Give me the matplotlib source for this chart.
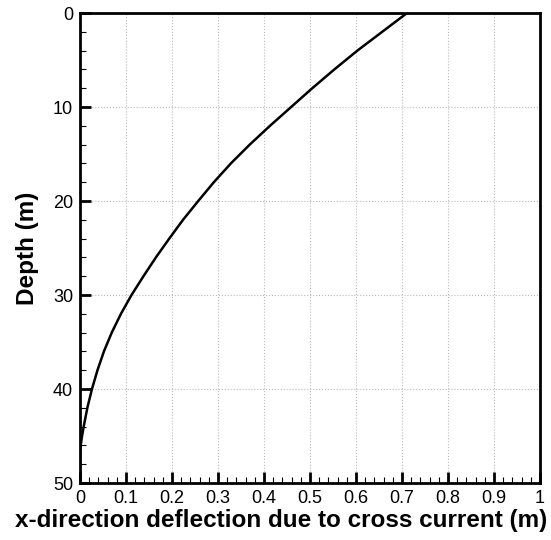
import matplotlib
matplotlib.use("Agg")
import matplotlib.pyplot as plt
from matplotlib.ticker import MultipleLocator, FuncFormatter

depth = [0, 2, 4, 6, 8, 10, 12, 14, 16, 18, 20, 22, 24, 26, 28, 30, 32, 34,
         36, 38, 40, 42, 44, 45, 46, 46.6, 48, 50]
deflection = [0.711, 0.657, 0.603, 0.553, 0.505, 0.459, 0.413, 0.369, 0.328,
              0.291, 0.257, 0.224, 0.194, 0.165, 0.138, 0.112, 0.089, 0.069,
              0.052, 0.038, 0.026, 0.016, 0.008, 0.0045, 0.0015, 0.0, 0.0, 0.0]

x_ticks = [0, 0.1, 0.2, 0.3, 0.4, 0.5, 0.6, 0.7, 0.8, 0.9, 1]
y_ticks = [0, 10, 20, 30, 40, 50]

plt.rcParams['font.family'] = ['Liberation Sans', 'DejaVu Sans']

fig = plt.figure(figsize=(5.51, 5.40), dpi=100)
ax = fig.add_axes([80/551, 1-483/540, 460/551, 470/540])

ax.plot(deflection, depth, color='black', lw=1.8, solid_capstyle='butt',
        solid_joinstyle='round')

ax.set_xlim(0, 1)
ax.set_ylim(50, 0)
ax.set_xticks(x_ticks)
ax.set_yticks(y_ticks)
ax.xaxis.set_major_formatter(FuncFormatter(lambda v, p: f"{v:g}"))
ax.xaxis.set_minor_locator(MultipleLocator(0.02))
ax.yaxis.set_minor_locator(MultipleLocator(2))

ax.tick_params(which='major', direction='in', length=8, width=2, labelsize=13,
               top=False, right=False, pad=5)
ax.tick_params(which='minor', direction='in', length=4.5, width=0.8,
               top=False, right=False)
ax.tick_params(axis='y', which='major', pad=5)

for s in ax.spines.values():
    s.set_linewidth(2)

ax.grid(True, which='major', linestyle=':', color='#bbbbbb', linewidth=0.8)
ax.set_axisbelow(True)

ax.set_xlabel('x-direction deflection due to cross current (m)', fontsize=17.5,
              fontweight='bold')
ax.xaxis.set_label_coords((281.5 - 80) / 460, (483 - 509) / 470)
ax.set_ylabel('Depth (m)', fontsize=17.5, fontweight='bold', labelpad=10)

fig.savefig('out.png', dpi=100)
